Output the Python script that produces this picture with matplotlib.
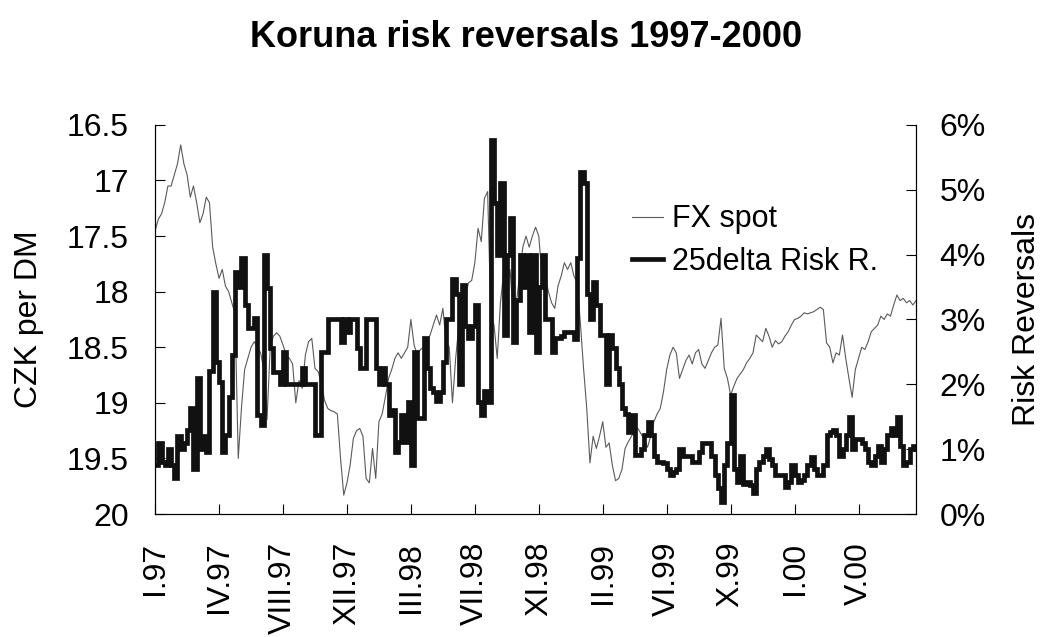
import matplotlib
matplotlib.use("Agg")
import matplotlib.pyplot as plt
from matplotlib.ticker import PercentFormatter, FuncFormatter, MultipleLocator

# CZK/DEM spot (left axis, inverted) and 25-delta risk reversals in % (right axis)
fx_spot = [
    17.45, 17.35, 17.30, 17.20, 17.05, 17.05, 16.95, 16.85, 16.68, 16.85,
    16.95, 17.15, 17.05, 17.20, 17.38, 17.30, 17.15, 17.20, 17.60, 17.75,
    17.88, 17.80, 17.95, 18.00, 18.10, 18.20, 19.50, 19.05, 18.70, 18.60,
    18.50, 18.45, 18.50, 18.55, 18.70, 19.15, 18.50, 18.40, 18.37, 18.40,
    18.48, 18.57, 18.60, 18.65, 19.00, 18.80, 18.87, 18.57, 18.45, 18.42,
    18.69, 18.72, 18.82, 18.98, 19.05, 19.07, 19.08, 19.10, 19.50, 19.83,
    19.72, 19.56, 19.32, 19.25, 19.23, 19.30, 19.68, 19.72, 19.41, 19.68,
    19.17, 19.10, 18.95, 18.78, 18.70, 18.60, 18.55, 18.60, 18.55, 18.50,
    18.25, 18.48, 18.57, 18.52, 18.50, 18.45, 18.39, 18.30, 18.21, 18.30,
    18.15, 18.45, 18.50, 19.00, 18.60, 18.30, 18.12, 18.05, 17.92, 17.90,
    17.74, 17.43, 17.55, 17.16, 17.10, 18.21, 18.30, 18.60, 18.10, 17.83,
    17.97, 17.80, 18.20, 18.10, 17.85, 17.60, 17.50, 17.60, 17.50, 17.42,
    17.50, 17.86, 17.86, 18.00, 18.10, 18.15, 17.95, 17.86, 17.74, 17.80,
    17.74, 17.86, 17.92, 18.28, 18.69, 19.05, 19.54, 19.30, 19.41, 19.30,
    19.17, 19.40, 19.36, 19.56, 19.70, 19.68, 19.60, 19.41, 19.35, 19.30,
    19.25, 19.23, 19.28, 19.33, 19.40, 19.30, 19.17, 19.10, 19.05, 18.90,
    18.70, 18.57, 18.50, 18.55, 18.78, 18.70, 18.62, 18.57, 18.65, 18.55,
    18.52, 18.65, 18.69, 18.62, 18.55, 18.50, 18.48, 18.24, 18.69, 18.78,
    18.93, 18.85, 18.78, 18.74, 18.70, 18.64, 18.60, 18.55, 18.39, 18.42,
    18.45, 18.33, 18.40, 18.50, 18.44, 18.47, 18.45, 18.40, 18.36, 18.30,
    18.25, 18.24, 18.22, 18.19, 18.20, 18.19, 18.18, 18.16, 18.14, 18.16,
    18.46, 18.50, 18.64, 18.55, 18.57, 18.39, 18.60, 18.78, 18.95, 18.70,
    18.60, 18.50, 18.52, 18.45, 18.36, 18.33, 18.30, 18.22, 18.25, 18.20,
    18.22, 18.12, 18.03, 18.08, 18.06, 18.10, 18.08, 18.12, 18.08,
]

risk_rev = [
    0.75, 1.10, 0.80, 0.75, 1.00, 0.75, 0.55, 1.20, 1.00, 1.10,
    1.30, 1.63, 0.70, 2.10, 1.00, 1.20, 0.95, 2.20, 3.42, 2.35,
    2.03, 0.96, 1.22, 1.80, 2.45, 3.73, 3.50, 3.94, 3.22, 2.87,
    2.87, 3.02, 1.53, 1.37, 4.00, 3.48, 2.56, 2.19, 2.19, 2.00,
    2.50, 2.00, 2.00, 2.00, 2.00, 2.00, 2.25, 2.00, 2.00, 2.00,
    1.22, 1.22, 2.50, 2.50, 3.00, 3.00, 3.00, 3.00, 2.65, 3.00,
    2.80, 3.00, 3.00, 2.56, 2.25, 2.25, 3.00, 3.00, 3.00, 2.25,
    2.00, 2.25, 2.00, 1.53, 1.60, 0.96, 1.11, 1.53, 1.11, 1.73,
    0.75, 2.50, 1.48, 1.48, 2.71, 2.25, 1.95, 1.88, 1.74, 1.88,
    2.34, 3.00, 3.00, 3.63, 3.40, 2.00, 3.53, 2.90, 2.71, 2.90,
    3.22, 1.73, 1.53, 1.90, 1.73, 5.76, 4.80, 4.00, 5.11, 2.76,
    4.00, 4.56, 2.65, 3.30, 4.00, 3.50, 4.00, 2.80, 4.00, 2.50,
    3.50, 4.00, 3.00, 3.00, 2.50, 2.71, 2.71, 2.75, 2.80, 2.80,
    2.80, 2.70, 3.94, 5.27, 5.11, 3.40, 3.00, 3.57, 3.22, 2.76,
    2.76, 2.00, 2.76, 2.56, 2.25, 2.00, 1.63, 1.55, 1.27, 1.53,
    0.91, 0.91, 1.00, 1.22, 1.42, 1.22, 0.90, 0.80, 0.80, 0.78,
    0.70, 0.60, 0.65, 0.70, 1.00, 0.90, 0.90, 0.90, 0.80, 0.80,
    0.95, 1.10, 1.10, 1.10, 0.90, 0.60, 0.40, 0.19, 0.75, 1.10,
    1.83, 0.70, 0.50, 0.90, 0.47, 0.50, 0.45, 0.33, 0.70, 0.80,
    0.90, 1.00, 0.85, 0.75, 0.60, 0.60, 0.60, 0.42, 0.50, 0.75,
    0.60, 0.50, 0.52, 0.60, 0.75, 0.88, 0.70, 0.60, 0.60, 0.75,
    1.22, 1.27, 1.29, 1.22, 0.90, 1.00, 1.22, 1.50, 1.00, 1.15,
    1.15, 1.10, 1.00, 0.80, 0.75, 0.90, 1.05, 0.80, 1.00, 1.22,
    1.32, 1.22, 1.50, 1.05, 0.75, 0.80, 1.00, 1.05, 1.00,
]

tick_labels = ["I.97", "IV.97", "VIII.97", "XII.97", "III.98", "VII.98",
               "XI.98", "II.99", "VI.99", "X.99", "I.00", "V.00"]
TICK_EVERY = 20   # observations between date labels

plt.rcParams["font.family"] = ["Liberation Sans", "DejaVu Sans"]
plt.rcParams["font.size"] = 23

fig = plt.figure(figsize=(10.41, 6.37), dpi=100)
ax = fig.add_axes([0.149, 0.193, 0.731, 0.611])
ax2 = ax.twinx()

x = list(range(len(fx_spot)))
l1, = ax.plot(x, fx_spot, color="#5a5a5a", lw=0.8, label="FX spot")
l2, = ax2.plot(x, risk_rev, color="#111111", lw=3.4, drawstyle="steps-post",
               solid_joinstyle="miter", label="25delta Risk R.")

ax.set_xlim(0, len(fx_spot) - 1)
ax.set_ylim(20, 16.5)
ax2.set_ylim(0, 6)
ax.yaxis.set_major_locator(MultipleLocator(0.5))
ax.yaxis.set_major_formatter(FuncFormatter(lambda v, p: f"{v:g}"))
ax2.yaxis.set_major_locator(MultipleLocator(1))
ax2.yaxis.set_major_formatter(PercentFormatter(xmax=100, decimals=0))

ax.set_xticks([i * TICK_EVERY for i in range(len(tick_labels))])
ax.set_xticklabels(tick_labels, rotation=90)

ax.tick_params(axis="both", direction="in", length=7, width=0.8, pad=19)
ax2.tick_params(axis="y", direction="in", length=7, width=0.8, pad=17)
ax.tick_params(axis="x", pad=20)

for a in (ax, ax2):
    a.spines["top"].set_visible(False)
    for s in ("left", "right", "bottom"):
        a.spines[s].set_linewidth(0.8)

ax.set_ylabel("CZK per DM")
ax.yaxis.set_label_coords(-0.146, 0.5)
ax2.set_ylabel("Risk Reversals")
ax2.yaxis.set_label_coords(1.126, 0.5)

ax2.legend([l1, l2], ["FX spot", "25delta Risk R."], loc="upper left",
           bbox_to_anchor=(0.607, 0.835), frameon=False, fontsize=22,
           handlelength=1.0, handletextpad=0.3, labelspacing=0.4, borderpad=0)

fig.text(0.505, 0.926, "Koruna risk reversals 1997-2000", ha="center",
         va="baseline", fontsize=26, fontweight="bold")

fig.savefig("out.png", dpi=100)
